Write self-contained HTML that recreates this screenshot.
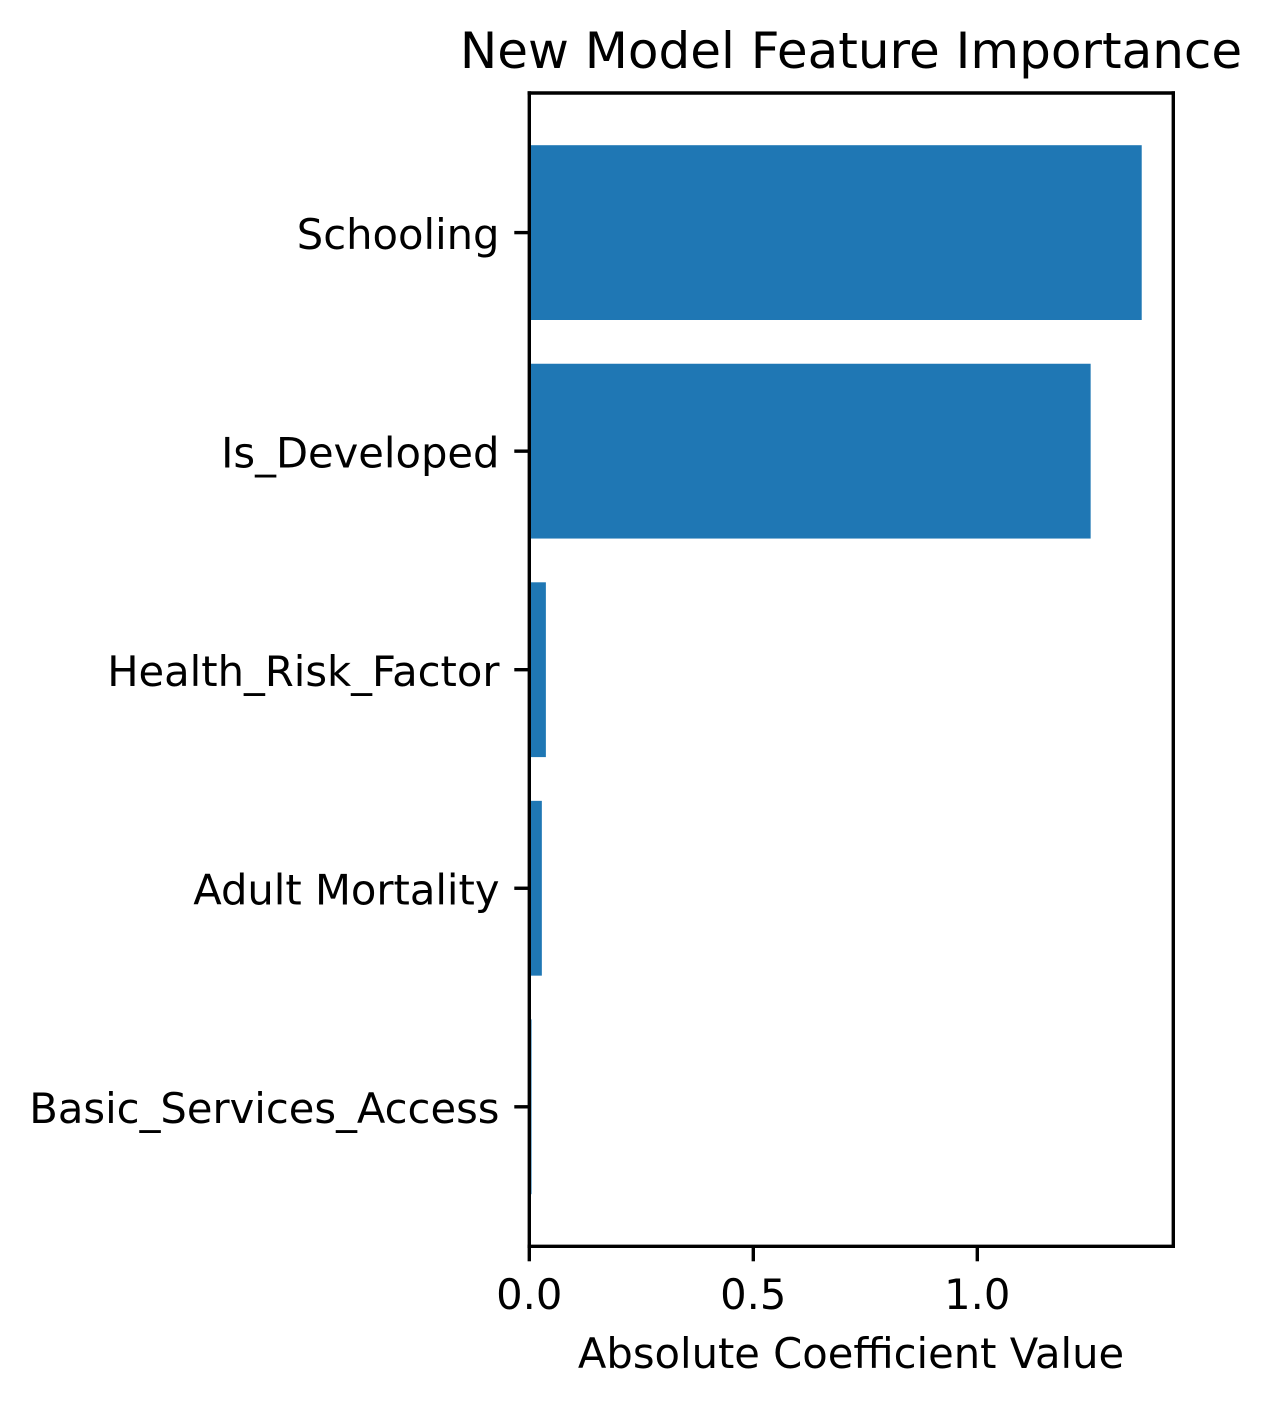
<!DOCTYPE html>
<html lang="en">
<head>
<meta charset="utf-8">
<title>New Model Feature Importance</title>
<style>
  html, body { margin: 0; padding: 0; background: #ffffff; }
  body { width: 1272px; height: 1406px; overflow: hidden; }
  svg { display: block; }
  text { font-family: "DejaVu Sans", "Liberation Sans", sans-serif; fill: #000000; }
</style>
</head>
<body>
<svg id="chart" xmlns="http://www.w3.org/2000/svg" width="1272" height="1406" viewBox="0 0 1272 1406"></svg>
<script>
const categories = ["Schooling", "Is_Developed", "Health_Risk_Factor", "Adult Mortality", "Basic_Services_Access"];
const coefficients = [1.367, 1.253, 0.037, 0.028, 0.005];
const xTicks = [0, 0.5, 1];
const xTickLabels = ["0.0", "0.5", "1.0"];
const chartTitle = "New Model Feature Importance";
const xAxisTitle = "Absolute Coefficient Value";

const plot = { left: 529.3, right: 1173.3, top: 93, bottom: 1246.3 };
const pxPerUnit = 448;
const bandStep = 218.55;
const firstBandCenter = 232.6;
const barThickness = 174.8;
const svg = document.getElementById('chart');
const NS = 'http://www.w3.org/2000/svg';

function xScale(v) { return plot.left + v * pxPerUnit; }
function yScale(i) { return firstBandCenter + i * bandStep; }

function make(tag, attrs, text) {
  const el = document.createElementNS(NS, tag);
  for (const k in attrs) el.setAttribute(k, attrs[k]);
  if (text !== undefined) el.textContent = text;
  svg.appendChild(el);
  return el;
}

categories.forEach(function (name, i) {
  const bar = make('rect', {
    x: xScale(0),
    y: yScale(i) - barThickness / 2,
    width: xScale(coefficients[i]) - xScale(0),
    height: barThickness,
    fill: '#1f77b4'
  });
  
  
});

const spineStyle = { stroke: '#000000', 'stroke-width': 3.4, 'stroke-linecap': 'square' };
[
  ['spine-left', plot.left, plot.top, plot.left, plot.bottom],
  ['spine-right', plot.right, plot.top, plot.right, plot.bottom],
  ['spine-top', plot.left, plot.top, plot.right, plot.top],
  ['spine-bottom', plot.left, plot.bottom, plot.right, plot.bottom]
].forEach(function (s) {
  const line = make('line', Object.assign({ x1: s[1], y1: s[2], x2: s[3], y2: s[4] }, spineStyle));
  
  
});

categories.forEach(function (name, i) {
  const tick = make('line', {
    x1: plot.left - 15, y1: yScale(i), x2: plot.left, y2: yScale(i),
    stroke: '#000000', 'stroke-width': 3.4
  });
  
  
  const label = make('text', {
    x: 499.5, y: yScale(i) + 16.2, 'text-anchor': 'end', 'font-size': 41.67
  }, name);
  
  
});

xTicks.forEach(function (v, i) {
  const tick = make('line', {
    x1: xScale(v), y1: plot.bottom, x2: xScale(v), y2: plot.bottom + 15,
    stroke: '#000000', 'stroke-width': 3.4
  });
  
  
  const label = make('text', {
    x: xScale(v), y: 1309, 'text-anchor': 'middle', 'font-size': 41.67
  }, xTickLabels[i]);
  
  
});

const xTitle = make('text', {
  x: 851, y: 1368, 'text-anchor': 'middle', 'font-size': 41.67
}, xAxisTitle);



const title = make('text', {
  x: 851, y: 68, 'text-anchor': 'middle', 'font-size': 50
}, chartTitle);


</script>
</body>
</html>
